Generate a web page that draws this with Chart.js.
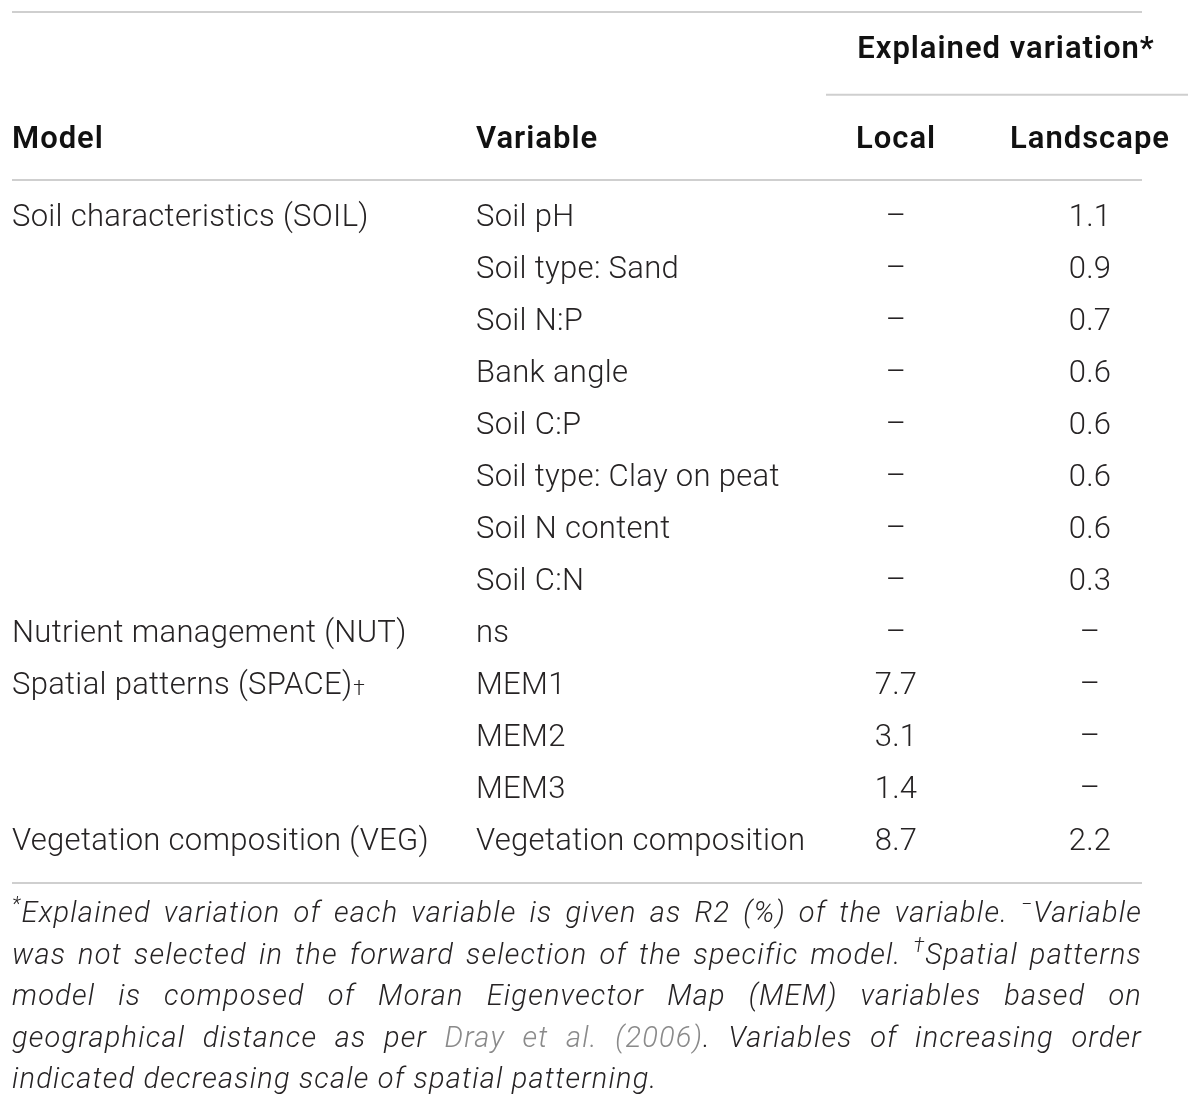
<!DOCTYPE html>
<html lang="en">
<head>
    <meta charset="UTF-8">
    <title>Explained variation</title>
    <script src="https://cdn.jsdelivr.net/npm/chart.js"></script>
    <style>
        body { margin: 0; background: #fff; }
        #wrap { width: 1200px; height: 1110px; }
    </style>
</head>
<body>
    <div id="wrap"><canvas id="tableChart" width="1200" height="1110"></canvas></div>

    <script>
        // table content
        const columnHeaders = ['Model', 'Variable', 'Local', 'Landscape'];
        const groupHeader = 'Explained variation*';
        const models = ['Soil characteristics (SOIL)', '', '', '', '', '', '', '',
            'Nutrient management (NUT)', 'Spatial patterns (SPACE)\u2020', '', '', 'Vegetation composition (VEG)'];
        const variables = ['Soil pH', 'Soil type: Sand', 'Soil N:P', 'Bank angle', 'Soil C:P',
            'Soil type: Clay on peat', 'Soil N content', 'Soil C:N', 'ns', 'MEM1', 'MEM2', 'MEM3',
            'Vegetation composition'];
        const localValues = [null, null, null, null, null, null, null, null, null, 7.7, 3.1, 1.4, 8.7];
        const landscapeValues = [1.1, 0.9, 0.7, 0.6, 0.6, 0.6, 0.6, 0.3, null, null, null, null, 2.2];

        // footnote, one entry per printed line; [text, style]
        const footnoteLines = [
            [['*', 'sup'], ['Explained variation of each variable is given as R2 (%) of the variable. '], ['\u2212', 'sup'], ['Variable']],
            [['was not selected in the forward selection of the specific model. '], ['\u2020', 'sup'], ['Spatial patterns']],
            [['model is composed of Moran Eigenvector Map (MEM) variables based on']],
            [['geographical distance as per '], ['Dray et al. (2006)', 'link'], ['. Variables of increasing order']],
            [['indicated decreasing scale of spatial patterning.']]
        ];

        // layout (row units on y, pixels on x)
        const COL = { model: 12, variable: 476, local: 896, landscape: 1090 };
        const ROW = { group: -3.23, header: -1.5, foot0: 13.40, footStep: 0.798 };
        const RULES = [
            { y: -3.96, x0: 12, x1: 1142 },
            { y: -2.37, x0: 826, x1: 1188 },
            { y: -0.73, x0: 12, x1: 1142 },
            { y: 12.79, x0: 12, x1: 1142 }
        ];
        const FONT = '"Roboto", "Liberation Sans", sans-serif';
        const INK = '#262324';

        const fmt = v => v === null ? '\u2013' : v.toFixed(1);

        function column(texts, x, align) {
            return {
                data: texts.map((t, i) => ({ x: x, y: i })),
                texts: texts,
                align: align,
                pointRadius: 0
            };
        }

        const tablePlugin = {
            id: 'tableText',
            afterDatasetsDraw(chart) {
                const ctx = chart.ctx;
                const xs = chart.scales.x, ys = chart.scales.y;
                ctx.save();
                ctx.textBaseline = 'middle';

                // rules
                ctx.strokeStyle = '#cfcfcf';
                ctx.lineWidth = 2;
                RULES.forEach(r => {
                    const y = ys.getPixelForValue(r.y);
                    ctx.beginPath();
                    ctx.moveTo(xs.getPixelForValue(r.x0), y);
                    ctx.lineTo(xs.getPixelForValue(r.x1), y);
                    ctx.stroke();
                });

                // headers
                ctx.fillStyle = '#111';
                ctx.font = '600 31px ' + FONT;
                ctx.letterSpacing = '1px';
                ctx.textAlign = 'center';
                ctx.fillText(groupHeader, xs.getPixelForValue(1006), ys.getPixelForValue(ROW.group));
                const hy = ys.getPixelForValue(ROW.header);
                ctx.textAlign = 'left';
                ctx.fillText(columnHeaders[0], xs.getPixelForValue(COL.model), hy);
                ctx.fillText(columnHeaders[1], xs.getPixelForValue(COL.variable), hy);
                ctx.textAlign = 'center';
                ctx.fillText(columnHeaders[2], xs.getPixelForValue(COL.local), hy);
                ctx.fillText(columnHeaders[3], xs.getPixelForValue(COL.landscape), hy);

                // body cells
                ctx.fillStyle = INK;
                ctx.letterSpacing = '0.3px';
                chart.data.datasets.forEach((ds, di) => {
                    const meta = chart.getDatasetMeta(di);
                    meta.data.forEach((pt, i) => {
                        let t = ds.texts[i];
                        if (!t) return;
                        ctx.font = '300 31px ' + FONT;
                        ctx.textAlign = ds.align;
                        let mark = '';
                        if (t.endsWith('\u2020')) { mark = '\u2020'; t = t.slice(0, -1); }
                        ctx.fillText(t, pt.x, pt.y);
                        if (mark) {
                            const w = ctx.measureText(t).width;
                            ctx.font = '300 21px ' + FONT;
                            ctx.textAlign = 'left';
                            ctx.fillText(mark, pt.x + w + 1, pt.y + 4);
                        }
                    });
                });

                // footnote, justified
                ctx.letterSpacing = '1.2px';
                const left = xs.getPixelForValue(12), right = xs.getPixelForValue(1142);
                const fontFor = st => st === 'sup' ? 'italic 300 20px ' + FONT : 'italic 300 29px ' + FONT;
                footnoteLines.forEach((line, li) => {
                    const y = ys.getPixelForValue(ROW.foot0 + li * ROW.footStep);
                    // split into words made of styled pieces
                    const words = [[]];
                    line.forEach(([text, st]) => {
                        text.split(/( )/).forEach(part => {
                            if (part === ' ') { words.push([]); }
                            else if (part) { words[words.length - 1].push([part, st]); }
                        });
                    });
                    const ws = words.filter(w => w.length);
                    const widths = ws.map(w => w.reduce((s, [p, st]) => {
                        ctx.font = fontFor(st);
                        return s + ctx.measureText(p).width;
                    }, 0));
                    const total = widths.reduce((a, b) => a + b, 0);
                    const last = li === footnoteLines.length - 1;
                    ctx.font = fontFor();
                    const gap = last ? ctx.measureText(' ').width : (right - left - total) / (ws.length - 1);
                    let x = left;
                    ctx.textAlign = 'left';
                    ws.forEach((w, wi) => {
                        let cx = x;
                        w.forEach(([p, st]) => {
                            ctx.font = fontFor(st);
                            ctx.fillStyle = st === 'link' ? '#8a8a8a' : INK;
                            ctx.fillText(p, cx, st === 'sup' ? y - 9 : y);
                            cx += ctx.measureText(p).width;
                        });
                        x += widths[wi] + gap;
                    });
                });
                ctx.restore();
            }
        };

        const ctx = document.getElementById('tableChart').getContext('2d');
        new Chart(ctx, {
            type: 'scatter',
            data: {
                datasets: [
                    column(models, COL.model, 'left'),
                    column(variables, COL.variable, 'left'),
                    column(localValues.map(fmt), COL.local, 'center'),
                    column(landscapeValues.map(fmt), COL.landscape, 'center')
                ]
            },
            options: {
                responsive: false,
                animation: false,
                layout: { padding: 0 },
                scales: {
                    x: { type: 'linear', display: false, min: 0, max: 1200 },
                    y: { type: 'linear', display: false, min: -4.192, max: 17.154, reverse: true }
                },
                plugins: { legend: { display: false }, tooltip: { enabled: false } }
            },
            plugins: [tablePlugin]
        });
    </script>
</body>
</html>
